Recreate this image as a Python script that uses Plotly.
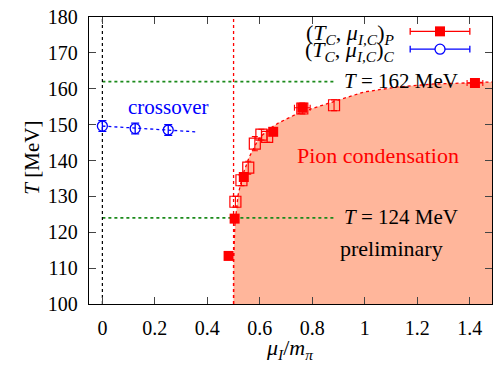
import plotly.graph_objects as go

# Data
xP = [0.481, 0.504, 0.539, 0.651, 0.762, 1.42]
TP = [113.4, 123.8, 135.4, 148.0, 154.7, 161.6]
xerrP = [0.006, 0.006, 0.01, 0.01, 0.03, 0.03]

xO = [0.507, 0.530, 0.556, 0.581, 0.606, 0.628, 0.762, 0.883]
TO = [128.5, 134.5, 138.0, 144.7, 147.2, 146.6, 154.5, 155.4]
TerrO = [1.5, 1.5, 1.8, 2.0, 1.5, 1.5, 1.5, 1.5]

xC = [0.0, 0.125, 0.251]
TC = [149.6, 148.9, 148.5]
TerrC = [1.5, 1.5, 1.5]
fitC_x = [0.0, 0.354]
fitC_T = [149.6, 148.0]

bound_x = [0.5, 0.5, 0.505, 0.517, 0.535, 0.56, 0.595, 0.63, 0.672, 0.736, 0.8, 0.889, 0.997, 1.125, 1.252, 1.38, 1.49]
bound_T = [100, 112, 122, 130.3, 136, 141, 146, 148.5, 150.5, 152.8, 154.5, 156.6, 159.1, 160.5, 161.3, 161.6, 161.9]

T_lines = [162, 124]
x_ticks = [0, 0.2, 0.4, 0.6, 0.8, 1.0, 1.2, 1.4]
x_ticklabels = ["0", "0.2", "0.4", "0.6", "0.8", "1", "1.2", "1.4"]
y_ticks = [100, 110, 120, 130, 140, 150, 160, 170, 180]

XR = [-0.051, 1.485]
YR = [100, 180]
FONT = "Liberation Serif"
FS = 20
RED = "#ff0000"
BLUE = "#0000ff"
GREEN = "#1b8a1b"
SALMON = "#ffb69b"

fig = go.Figure()

# pion condensation region
fig.add_trace(go.Scatter(x=bound_x + [XR[1], bound_x[0]], y=bound_T + [YR[0], YR[0]],
                         fill="toself", fillcolor=SALMON, mode="none",
                         hoverinfo="skip", showlegend=False))
fig.add_trace(go.Scatter(x=bound_x, y=bound_T, mode="lines",
                         line=dict(color=RED, width=1.3, dash="dot"), showlegend=False))

# reference lines
for T in T_lines:
    fig.add_trace(go.Scatter(x=[0, 0.882], y=[T, T], mode="lines",
                             line=dict(color=GREEN, width=1.6, dash="dot"), showlegend=False))
fig.add_trace(go.Scatter(x=[0, 0], y=YR, mode="lines",
                         line=dict(color="black", width=1.2, dash="dot"), showlegend=False))
fig.add_trace(go.Scatter(x=[0.5, 0.5], y=YR, mode="lines",
                         line=dict(color=RED, width=1.3, dash="dot"), showlegend=False))

# crossover
fig.add_trace(go.Scatter(x=fitC_x, y=fitC_T, mode="lines",
                         line=dict(color=BLUE, width=1.3, dash="dot"), showlegend=False))
fig.add_trace(go.Scatter(x=xC, y=TC, mode="markers",
                         marker=dict(symbol="circle-open", size=10, color=BLUE, line=dict(width=1.3)),
                         error_y=dict(type="data", array=TerrC, color=BLUE, thickness=1.3, width=4),
                         showlegend=False))

# open red squares
fig.add_trace(go.Scatter(x=xO, y=TO, mode="markers",
                         marker=dict(symbol="square-open", size=11, color=RED, line=dict(width=1.2)),
                         error_y=dict(type="data", array=TerrO, color=RED, thickness=1.1, width=3),
                         showlegend=False))
# filled red squares
fig.add_trace(go.Scatter(x=xP, y=TP, mode="markers",
                         marker=dict(symbol="square", size=10, color=RED),
                         error_x=dict(type="data", array=xerrP, color=RED, thickness=1.1, width=3),
                         showlegend=False))

ann = [
    dict(x=0.25, y=154.9, text="crossover", font=dict(color=BLUE, size=21)),
    dict(x=1.052, y=141.4, text="Pion condensation", font=dict(color=RED, size=22)),
    dict(x=0.912, y=162.1, text="<i>T</i> = 162 MeV", xanchor="left", font=dict(color="black", size=21)),
    dict(x=0.912, y=124.2, text="<i>T</i> = 124 MeV", xanchor="left", font=dict(color="black", size=21)),
    dict(x=1.101, y=115.6, text="preliminary", font=dict(color="black", size=22)),
]
annotations = []
for a in ann:
    d = dict(xref="x", yref="y", showarrow=False, font=dict(family=FONT, **a.pop("font")))
    d.update(a)
    annotations.append(d)

# axis titles
annotations.append(dict(xref="paper", yref="paper", x=-0.176, y=0.51, textangle=-90, showarrow=False,
                        text="<i>T</i> [MeV]", font=dict(family=FONT, size=21, color="black")))
annotations.append(dict(xref="paper", yref="paper", x=0.499, y=-0.158, yanchor="middle", showarrow=False,
                        text="<i>μ</i><sub><i>I</i></sub>/<i>m</i><sub><i>π</i></sub>",
                        font=dict(family=FONT, size=22, color="black")))

# manual legend (gnuplot style: text left, sample right)
leg_rows = [
    (0.950, "(<i>T</i><sub><i>C</i></sub>, <i>μ</i><sub><i>I,C</i></sub>)<sub><i>P</i></sub>", RED, "square"),
    (0.888, "(<i>T</i><sub><i>C</i></sub>, <i>μ</i><sub><i>I,C</i></sub>)<sub><i>C</i></sub>", BLUE, "circle"),
]
shapes = []
for yy, txt, col, sym in leg_rows:
    annotations.append(dict(xref="paper", yref="paper", x=0.762, y=yy - 0.008, xanchor="right", yanchor="middle",
                            text=txt, showarrow=False, font=dict(family=FONT, size=22, color="black")))
    shapes.append(dict(type="line", xref="paper", yref="paper", x0=0.797, x1=0.945, y0=yy, y1=yy,
                       line=dict(color=col, width=1.3)))
    for xe in (0.797, 0.945):
        shapes.append(dict(type="line", xref="paper", yref="paper", x0=xe, x1=xe, y0=yy - 0.012, y1=yy + 0.012,
                           line=dict(color=col, width=1.3)))
    dx, dy = 5 / 403, 5 / 287
    if sym == "square":
        shapes.append(dict(type="rect", xref="paper", yref="paper", x0=0.871 - dx, x1=0.871 + dx,
                           y0=yy - dy, y1=yy + dy, fillcolor=col, line=dict(color=col, width=0)))
    else:
        shapes.append(dict(type="circle", xref="paper", yref="paper", x0=0.871 - dx, x1=0.871 + dx,
                           y0=yy - dy, y1=yy + dy, fillcolor="white", line=dict(color=col, width=1.3)))

axis_common = dict(showline=True, linecolor="black", linewidth=1.3, mirror="allticks",
                   ticks="inside", ticklen=7, tickwidth=1, tickcolor="#444", showgrid=False,
                   zeroline=False, automargin=False,
                   tickfont=dict(family=FONT, size=FS, color="black"))

fig.update_layout(
    width=493, height=367,
    margin=dict(l=89, r=1, t=17, b=63),
    plot_bgcolor="white", paper_bgcolor="white",
    showlegend=False,
    xaxis=dict(range=XR, tickvals=x_ticks, ticktext=x_ticklabels, ticklabelstandoff=6, **axis_common),
    yaxis=dict(range=YR, tickvals=y_ticks, ticklabelstandoff=6, **axis_common),
    annotations=annotations,
    shapes=shapes,
)

fig.write_html("out.html", config={"displayModeBar": False},
               post_script="document.body.style.margin='0px';document.body.style.overflow='hidden';")
